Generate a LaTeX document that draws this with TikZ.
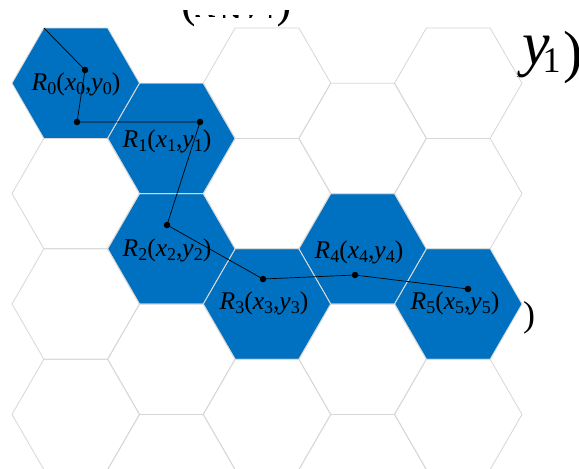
\documentclass[tikz,border=0pt]{standalone}
\usepackage{fontspec}
\setmainfont{Liberation Serif}
\definecolor{hexblue}{RGB}{0,112,192}
\definecolor{gridgray}{RGB}{215,215,215}
\newcommand\lsub[1]{\raisebox{-0.16em}{\fontsize{18}{19}\selectfont #1}}
\newcommand\rlab[1]{\textit{R}\lsub{#1}(\textit{x}\lsub{#1},\textit{y}\lsub{#1})}
\tikzset{
  gridline/.style={draw=gridgray, line width=0.8pt, line join=miter},
  bluefill/.style={fill=hexblue},
  route/.style={draw=black, line width=0.7pt},
  dot/.style={circle, fill=black, inner sep=0pt, minimum size=6.5pt},
  lbl/.style={inner sep=0pt, font=\fontsize{25.5}{29}\selectfont},
}
\begin{document}
\begin{tikzpicture}[x=1pt, y=-1pt]
\useasboundingbox[fill=white] (0,0) rectangle (579,469);
% big text fragments (partly hidden)
\begin{scope}
  \clip (174,10) rectangle (193,32) (278,10) rectangle (305,32) (193,14.5) rectangle (278,17.5);
  \node[anchor=base west, inner sep=0pt, font=\fontsize{46}{52}\selectfont] (bigA) at (181,17)
    {(\textit{x}\raisebox{-0.14em}{\fontsize{28}{30}\selectfont 1},\textit{y}\raisebox{-0.14em}{\fontsize{28}{30}\selectfont 1})};
\end{scope}
\node[anchor=base west, inner sep=0pt] (bigB) at (522,64)
  {{\fontsize{62}{70}\selectfont\itshape y}\hspace{-7pt}\raisebox{-8pt}{\fontsize{36}{40}\selectfont 1}\hspace{3pt}\raisebox{-7.5pt}{\fontsize{58}{60}\selectfont )}};
\node[inner sep=0pt, font=\fontsize{36}{40}\selectfont] (bigC) at (529,317.5) {)};
% blue hexagons
\foreach \cx/\cy in {75.75/83.2, 171.375/138.4, 171.375/248.8, 267/304, 362.625/248.8, 458.25/304}
  \fill[bluefill] (\cx+63.75,\cy) -- ++(-31.875,55.2) -- ++(-63.75,0) -- ++(-31.875,-55.2) -- ++(31.875,-55.2) -- ++(63.75,0) -- cycle;
% grid outlines
\foreach \cx/\cy in {75.75/83.2, 75.75/193.6, 75.75/304, 75.75/414.4,
                     171.375/138.4, 171.375/248.8, 171.375/359.2, 171.375/469.6,
                     267/83.2, 267/193.6, 267/304, 267/414.4,
                     362.625/138.4, 362.625/248.8, 362.625/359.2, 362.625/469.6,
                     458.25/83.2, 458.25/193.6, 458.25/304, 458.25/414.4}
  \draw[gridline] (\cx+63.75,\cy) -- ++(-31.875,55.2) -- ++(-63.75,0) -- ++(-31.875,-55.2) -- ++(31.875,-55.2) -- ++(63.75,0) -- cycle;
% labels
\node[lbl] (l0) at (76,84) {\rlab{0}};
\node[lbl] (l1) at (167,141) {\rlab{1}};
\node[lbl] (l2) at (167,250) {\rlab{2}};
\node[lbl] (l3) at (264,303) {\rlab{3}};
\node[lbl] (l4) at (359,252) {\rlab{4}};
\node[lbl] (l5) at (455,303) {\rlab{5}};
% route
\coordinate (s) at (43.9,28);
\node[dot] (p0) at (85,70) {};
\node[dot] (q0) at (77,122) {};
\node[dot] (p1) at (200,122) {};
\node[dot] (p2) at (167,225) {};
\node[dot] (p3) at (263,279) {};
\node[dot] (p4) at (355,275) {};
\node[dot] (p5) at (468,289) {};
\draw[route] (s) -- (p0.center) -- (q0.center) -- (p1.center) -- (p2.center) -- (p3.center) -- (p4.center) -- (p5.center);
\end{tikzpicture}
\end{document}
